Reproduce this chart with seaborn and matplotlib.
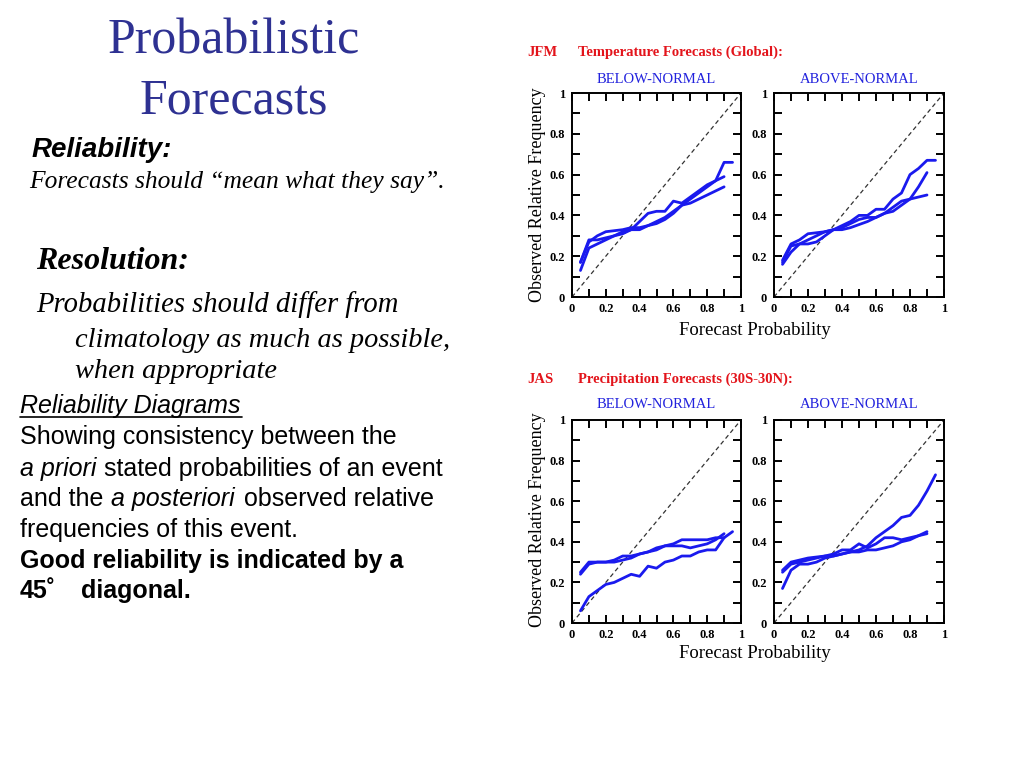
import matplotlib
matplotlib.use("Agg")
import matplotlib.pyplot as plt
import seaborn as sns
import pandas as pd
from matplotlib.ticker import MultipleLocator
from matplotlib.lines import Line2D

# ---------------- data ----------------
PROB = [0.05, 0.10, 0.15, 0.20, 0.25, 0.30, 0.35, 0.40, 0.45, 0.50,
        0.55, 0.60, 0.65, 0.70, 0.75, 0.80, 0.85, 0.90, 0.95]

# JFM temperature, below-normal
JFM_BN_1 = [0.13, 0.24, 0.26, 0.28, 0.30, 0.31, 0.33, 0.33, 0.35, 0.37,
            0.39, 0.42, 0.45, 0.48, 0.51, 0.54, 0.57, 0.66, 0.66]
JFM_BN_2 = [0.17, 0.28, 0.28, 0.29, 0.30, 0.32, 0.33, 0.37, 0.41, 0.42,
            0.42, 0.47, 0.46, 0.49, 0.52, 0.55, 0.57, 0.59]
JFM_BN_3 = [0.17, 0.27, 0.30, 0.32, 0.325, 0.33, 0.34, 0.34, 0.35, 0.36,
            0.38, 0.41, 0.45, 0.46, 0.48, 0.50, 0.52, 0.54]

# JFM temperature, above-normal
JFM_AN_1 = [0.18, 0.26, 0.28, 0.31, 0.315, 0.32, 0.33, 0.35, 0.37, 0.40,
            0.40, 0.43, 0.43, 0.48, 0.51, 0.60, 0.63, 0.67, 0.67]
JFM_AN_2 = [0.16, 0.22, 0.26, 0.26, 0.27, 0.30, 0.33, 0.33, 0.34, 0.355,
            0.37, 0.39, 0.41, 0.42, 0.45, 0.48, 0.54, 0.61]
JFM_AN_3 = [0.17, 0.25, 0.26, 0.28, 0.30, 0.32, 0.33, 0.34, 0.36, 0.38,
            0.39, 0.39, 0.41, 0.44, 0.47, 0.48, 0.49, 0.50]

# JAS precipitation, below-normal
JAS_BN_1 = [0.06, 0.13, 0.16, 0.19, 0.20, 0.22, 0.24, 0.23, 0.28, 0.27,
            0.30, 0.31, 0.33, 0.33, 0.35, 0.36, 0.36, 0.42, 0.45]
JAS_BN_2 = [0.25, 0.30, 0.30, 0.30, 0.31, 0.33, 0.33, 0.34, 0.35, 0.36,
            0.38, 0.39, 0.41, 0.41, 0.41, 0.41, 0.42, 0.42]
JAS_BN_3 = [0.24, 0.29, 0.30, 0.30, 0.30, 0.31, 0.32, 0.34, 0.35, 0.37,
            0.38, 0.38, 0.38, 0.37, 0.38, 0.39, 0.41, 0.44]

# JAS precipitation, above-normal
JAS_AN_1 = [0.17, 0.26, 0.29, 0.29, 0.30, 0.32, 0.33, 0.34, 0.35, 0.36,
            0.38, 0.42, 0.45, 0.48, 0.52, 0.53, 0.58, 0.65, 0.73]
JAS_AN_2 = [0.26, 0.30, 0.31, 0.32, 0.325, 0.33, 0.34, 0.36, 0.36, 0.39,
            0.37, 0.39, 0.42, 0.42, 0.41, 0.42, 0.43, 0.45]
JAS_AN_3 = [0.25, 0.29, 0.30, 0.31, 0.32, 0.33, 0.33, 0.34, 0.35, 0.35,
            0.36, 0.36, 0.37, 0.38, 0.40, 0.41, 0.43, 0.44]

TICKS = [0, 0.2, 0.4, 0.6, 0.8, 1.0]
TICK_LABELS = ["0", "0.2", "0.4", "0.6", "0.8", "1"]

# ---------------- style ----------------
sns.set_theme(style="white")
plt.rcParams['font.family'] = ['Liberation Serif', 'DejaVu Serif']
plt.rcParams['text.color'] = 'black'
plt.rcParams['axes.labelcolor'] = 'black'
plt.rcParams['xtick.color'] = 'black'
plt.rcParams['ytick.color'] = 'black'

NAVY = "#2E3192"
RED = "#E3141B"
BLUE = "#1A1AEE"
HDR_BLUE = "#2222DD"

fig = plt.figure(figsize=(10.24, 7.68), dpi=100)
fig.patch.set_facecolor("white")


def fx(x):
    return x / 1024.0


def fy(y):
    return 1.0 - y / 768.0


def ftext(x, y, s, **kw):
    kw.setdefault("va", "baseline")
    kw.setdefault("color", "black")
    return fig.text(fx(x), fy(y), s, **kw)


# ---------------- left-hand slide text ----------------
SERIF = ['Liberation Serif', 'DejaVu Serif']
SANS = ['Liberation Sans', 'DejaVu Sans']

ftext(234, 53, "Probabilistic", ha="center", fontsize=36, color=NAVY, family=SERIF)
ftext(234, 113, "Forecasts", ha="center", fontsize=36, color=NAVY, family=SERIF)

ftext(32, 157, "Reliability:", fontsize=20, fontweight="bold", style="italic", family=SANS)
ftext(29, 188, "Forecasts should \u201cmean what they say\u201d.", fontsize=18.4,
      style="italic", family=SERIF)

ftext(36, 269, "Resolution:", fontsize=23, fontweight="bold", style="italic", family=SERIF)
ftext(36, 312, "Probabilities should differ from", fontsize=20.6, style="italic", family=SERIF)
ftext(75, 347, "climatology as much as possible,", fontsize=20.4, style="italic", family=SERIF)
ftext(75, 378, "when appropriate", fontsize=20.4, style="italic", family=SERIF)

ftext(20, 413, "Reliability Diagrams", fontsize=18, style="italic", family=SANS)
fig.add_artist(Line2D([fx(20), fx(242)], [fy(417), fy(417)], color="black", lw=1.2,
                      transform=fig.transFigure))
ftext(20, 444, "Showing consistency between the", fontsize=18, family=SANS)
ftext(20, 476, "a priori", fontsize=18, style="italic", family=SANS)
ftext(104, 476, "stated probabilities of an event", fontsize=18, family=SANS)
ftext(20, 506, "and the", fontsize=18, family=SANS)
ftext(111, 506, "a posteriori", fontsize=18, style="italic", family=SANS)
ftext(244, 506, "observed relative", fontsize=18, family=SANS)
ftext(20, 537, "frequencies of this event.", fontsize=18, family=SANS)
ftext(20, 568, "Good reliability is indicated by a", fontsize=18, fontweight="bold", family=SANS)
ftext(20, 598, "45\u02da", fontsize=18, fontweight="bold", family=SANS)
ftext(81, 598, "diagonal.", fontsize=18, fontweight="bold", family=SANS)

# ---------------- reliability diagrams ----------------
panels = [
    (572, 93, 741, 297, [JFM_BN_1, JFM_BN_2, JFM_BN_3]),
    (774, 93, 944, 297, [JFM_AN_1, JFM_AN_2, JFM_AN_3]),
    (572, 420, 741, 623, [JAS_BN_1, JAS_BN_2, JAS_BN_3]),
    (774, 420, 944, 623, [JAS_AN_1, JAS_AN_2, JAS_AN_3]),
]

for (l, t, r, b, series) in panels:
    ax = fig.add_axes([fx(l), fy(b), (r - l) / 1024.0, (b - t) / 768.0])
    rows = []
    for i, s in enumerate(series):
        for x, y in zip(PROB, s):
            rows.append((i, x, y))
    df = pd.DataFrame(rows, columns=["series", "prob", "freq"])
    ax.plot([0, 1], [0, 1], ls=(0, (3.5, 2.5)), color="#333333", lw=0.9, zorder=1)
    sns.lineplot(data=df, x="prob", y="freq", units="series", estimator=None,
                 color=BLUE, lw=2.0, ax=ax, legend=False, zorder=3)
    ax.set_xlim(0, 1)
    ax.set_ylim(0, 1)
    ax.set_xticks(TICKS)
    ax.set_yticks(TICKS)
    ax.set_xticklabels(TICK_LABELS)
    ax.set_yticklabels(TICK_LABELS)
    ax.xaxis.set_minor_locator(MultipleLocator(0.1))
    ax.yaxis.set_minor_locator(MultipleLocator(0.1))
    ax.tick_params(which="both", direction="in", top=True, right=True,
                   bottom=True, left=True, length=6, width=1.4, color="black")
    ax.tick_params(axis="x", which="major", pad=4, labelsize=9, labelcolor="black")
    ax.tick_params(axis="y", which="major", pad=5, labelsize=9, labelcolor="black")
    for lab in ax.get_xticklabels() + ax.get_yticklabels():
        lab.set_fontweight("bold")
        lab.set_family(SERIF)
    ax.set_xlabel("")
    ax.set_ylabel("")
    for sp in ax.spines.values():
        sp.set_visible(True)
        sp.set_color("black")
        sp.set_linewidth(1.4)
    ax.set_facecolor("white")

# ---------------- panel headers / labels ----------------
for (y0, tag, title) in [(0, "JFM", "Temperature Forecasts (Global):"),
                         (325, "JAS", "Precipitation Forecasts (30S-30N):")]:
    ftext(527, 56 + y0 + (2 if y0 else 0), tag, fontsize=10.5, fontweight="bold", color=RED, family=SERIF)
    ftext(578, 56 + y0 + (2 if y0 else 0), title, fontsize=10.5, fontweight="bold", color=RED, family=SERIF)
    ftext(656, 83 + y0, "BELOW-NORMAL", ha="center", fontsize=10.5, color=HDR_BLUE, family=SERIF)
    ftext(859, 83 + y0, "ABOVE-NORMAL", ha="center", fontsize=10.5, color=HDR_BLUE, family=SERIF)
    ftext(755, 335 + y0 - (2 if y0 else 0), "Forecast Probability", ha="center",
          fontsize=13.5, family=SERIF)
    fig.text(fx(537), fy(195 + y0), "Observed Relative Frequency", rotation=90,
             ha="center", va="center", fontsize=13, family=SERIF, color="black")

fig.savefig("out.png", dpi=100, facecolor="white")
